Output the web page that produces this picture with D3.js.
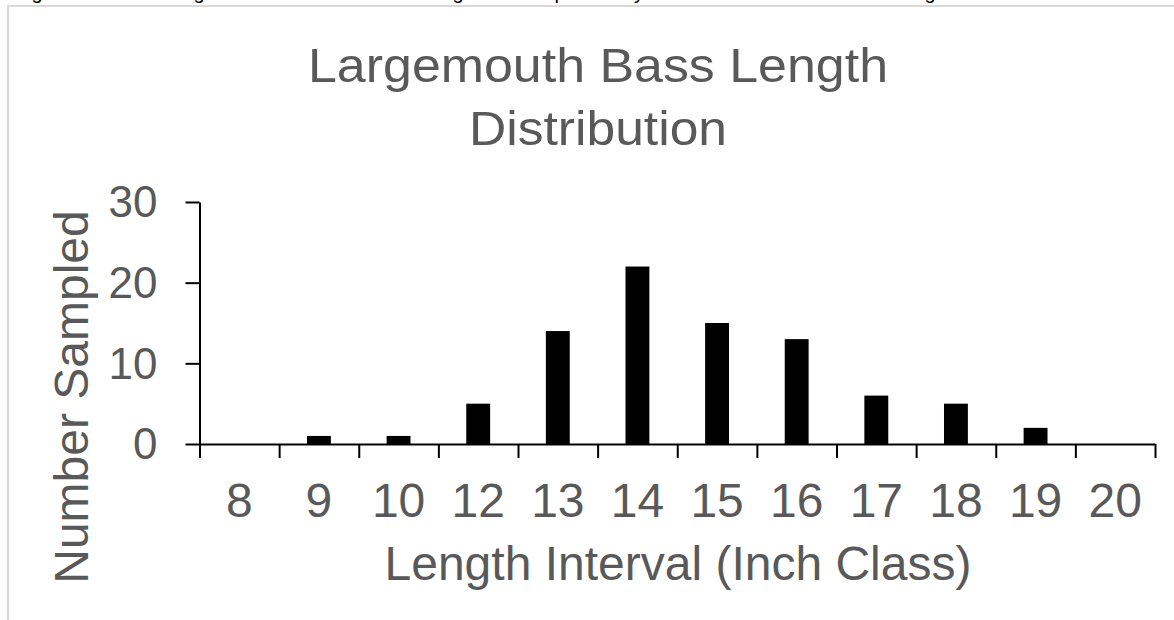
<!DOCTYPE html>
<html>
<head>
<meta charset="utf-8">
<script src="https://cdn.jsdelivr.net/npm/d3@7"></script>
<style>
  body { margin: 0; background: #fff; }
  svg { display: block; }
  text { font-family: "Liberation Sans", Arial, sans-serif; }
</style>
</head>
<body>
<svg></svg>
<script>
// data
const lengthClasses = ['8', '9', '10', '12', '13', '14', '15', '16', '17', '18', '19', '20'];
const numberSampled = [0, 1, 1, 5, 14, 22, 15, 13, 6, 5, 2, 0];
const yTicks = [0, 10, 20, 30];
const titleLines = ['Largemouth Bass Length', 'Distribution'];
// bits of the line of document text above the chart, cut off by the crop
const cutChars = ['g', 'g', 'g', 'p', 'y', 'g'];
const cutCharX = [37, 199, 458, 560, 639, 930];

const width = 1174;
const height = 620;
const grey = '#595959';

const svg = d3.select('svg')
    .attr('width', width)
    .attr('height', height);

// clipped text from the page above
svg.selectAll('text.cut')
  .data(cutChars)
  .enter().append('text')
    .attr('class', 'cut')
    .attr('x', (d, i) => cutCharX[i])
    .attr('y', -1)
    .attr('text-anchor', 'middle')
    .style('font-size', '20px')
    .attr('fill', '#000')
    .text(d => d);

// chart frame
svg.append('path')
    .attr('d', 'M8,' + height + 'V6H' + width)
    .attr('fill', 'none')
    .attr('stroke', '#d9d9d9')
    .attr('stroke-width', 2);

// title (the source is a little wider than Liberation Sans)
const titleWidths = [580, 258];
svg.selectAll('text.title')
  .data(titleLines)
  .enter().append('text')
    .attr('class', 'title')
    .attr('x', 598)
    .attr('y', (d, i) => 82 + i * 63)
    .attr('text-anchor', 'middle')
    .attr('fill', grey)
    .style('font-size', '48px')
    .attr('textLength', (d, i) => titleWidths[i])
    .attr('lengthAdjust', 'spacingAndGlyphs')
    .text(d => d);

const plotLeft = 199.5, plotRight = 1155, plotTop = 202, plotBottom = 444;

const x = d3.scaleBand()
    .domain(lengthClasses)
    .range([plotLeft, plotRight])
    .padding(0);

const xEdges = d3.scaleLinear()
    .domain([0, lengthClasses.length])
    .range([plotLeft, plotRight]);

const y = d3.scaleLinear()
    .domain([0, 30])
    .range([plotBottom, plotTop]);

// bars
const barW = x.bandwidth() * 0.3;
svg.selectAll('rect.bar')
  .data(numberSampled)
  .enter().append('rect')
    .attr('class', 'bar')
    .attr('x', (d, i) => x(lengthClasses[i]) + x.bandwidth() / 2 - barW / 2)
    .attr('y', d => y(d))
    .attr('width', barW)
    .attr('height', d => plotBottom - y(d))
    .attr('fill', '#000');

// y axis
const yAxis = svg.append('g')
    .attr('transform', `translate(${plotLeft},0)`)
    .call(d3.axisLeft(y).tickValues(yTicks).tickSize(14).tickSizeOuter(0).tickPadding(28));
yAxis.select('.domain').attr('stroke', '#000').attr('stroke-width', 2);
yAxis.selectAll('line').attr('stroke', '#000').attr('stroke-width', 2);
yAxis.selectAll('text')
    .attr('fill', grey)
    .style('font-size', '44px')
    .attr('font-family', null)
    .attr('dy', '0.34em');

// x axis: tick marks on category edges
const xAxis = svg.append('g')
    .attr('transform', `translate(0,${plotBottom})`)
    .call(d3.axisBottom(xEdges).ticks(lengthClasses.length).tickSize(14).tickSizeOuter(0).tickFormat(''));
xAxis.select('.domain').attr('stroke', '#000').attr('stroke-width', 2);
xAxis.selectAll('line').attr('stroke', '#000').attr('stroke-width', 2);

// x labels centred in categories
const xLabels = svg.append('g')
    .attr('transform', `translate(0,${plotBottom})`)
    .call(d3.axisBottom(x).tickSize(0).tickPadding(0));
xLabels.select('.domain').remove();
xLabels.selectAll('text')
    .attr('fill', grey)
    .attr('font-family', null)
    .style('font-size', '48px')
    .attr('y', 73)
    .attr('dy', null);

// axis titles
svg.append('text')
    .attr('x', 678)
    .attr('y', 580)
    .attr('text-anchor', 'middle')
    .attr('fill', grey)
    .style('font-size', '48px')
    .text('Length Interval (Inch Class)');

svg.append('text')
    .attr('transform', 'translate(88,397) rotate(-90)')
    .attr('text-anchor', 'middle')
    .attr('fill', grey)
    .style('font-size', '48px')
    .text('Number Sampled');
</script>
</body>
</html>
